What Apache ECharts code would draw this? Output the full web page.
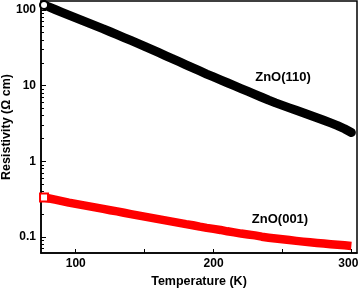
<!DOCTYPE html>
<html>
<head>
<meta charset="utf-8">
<script src="https://cdn.jsdelivr.net/npm/echarts@6/dist/echarts.min.js"></script>
<style>html,body{margin:0;padding:0;background:#fff;}#c{width:360px;height:289px;}</style>
</head>
<body>
<div id="c"></div>
<script>
const temperature = [77,80,85,90,95,100,105,110,115,120,125,130,135,140,145,150,155,160,165,170,175,180,185,190,195,200,205,210,215,220,225,230,235,240,245,250,255,260,265,270,275,280,285,290,295,300];
const zno110 = [115.9,110.2,101.2,92.9,85.2,78.3,72.0,66.2,60.9,56.1,51.4,47.1,43.1,39.5,36.2,33.0,30.1,27.4,24.9,22.7,20.7,18.8,17.1,15.6,14.2,13.0,11.9,10.9,9.98,9.14,8.37,7.66,7.02,6.42,5.91,5.48,5.08,4.72,4.38,4.06,3.77,3.49,3.22,2.96,2.69,2.40];
const zno001 = [0.333,0.325,0.311,0.298,0.285,0.274,0.264,0.254,0.244,0.235,0.226,0.218,0.209,0.201,0.193,0.186,0.179,0.172,0.166,0.160,0.154,0.148,0.143,0.137,0.132,0.128,0.124,0.119,0.115,0.111,0.108,0.105,0.101,0.098,0.0955,0.0933,0.0912,0.0890,0.0869,0.0851,0.0836,0.0820,0.0805,0.0791,0.0777,0.0762];
const xTickLabels = [100,200,300];
const xTicks = [100,150,200,250,300];
const yTickLabels = [0.1,1,10,100];
const yMinorTicks = [0.07,0.08,0.09,0.2,0.3,0.4,0.5,0.6,0.7,0.8,0.9,2,3,4,5,6,7,8,9,20,30,40,50,60,70,80,90];
const seriesNames = ['ZnO(110)','ZnO(001)'];

const chart = echarts.init(document.getElementById('c'), null, {renderer:'canvas'});
const font = 'Liberation Sans, Arial, sans-serif';
function mk(vals, sym){
  return temperature.map((t,i)=> i===0 ? {value:[t,vals[i]], symbol:sym, symbolSize:8} : [t,vals[i]]);
}
const lblStyle = {fontFamily:font, fontWeight:'bold', fontSize:12, color:'#000'};
const yBase = {type:'log', min:0.0615, max:131, gridIndex:0};
chart.setOption({
  animation:false,
  backgroundColor:'#fff',
  grid:{left:41, right:3, top:1, bottom:36, containLabel:false, outerBoundsMode:'none', show:true, borderColor:'#000', borderWidth:1.5, backgroundColor:'transparent'},
  xAxis:{type:'value', min:74.8, max:304.1,
    name:'Temperature (K)', nameLocation:'middle', nameGap:22, nameMoveOverlap:false,
    nameTextStyle:{fontFamily:font, fontWeight:'bold', fontSize:12.5, color:'#000'},
    axisLine:{lineStyle:{color:'#000', width:1.5}},
    axisTick:{inside:true, length:4, lineStyle:{color:'#000'}, customValues:xTicks},
    axisLabel:{customValues:xTickLabels, fontFamily:font, fontWeight:'bold', fontSize:12, color:'#000', margin:5,
      formatter:v=> (v===xTickLabels[xTickLabels.length-1] ? '{r|'+v+'}' : '{n|'+v+'}'),
      rich:{n:Object.assign({}, lblStyle), r:Object.assign({padding:[0,6,0,0]}, lblStyle)}},
    splitLine:{show:false}
  },
  yAxis:[
    Object.assign({}, yBase, {
      name:'Resistivity (\u03A9 cm)', nameLocation:'middle', nameGap:28, nameMoveOverlap:false,
      nameTextStyle:{fontFamily:font, fontWeight:'bold', fontSize:12.5, color:'#000'},
      axisLine:{lineStyle:{color:'#000', width:1.5}},
      axisTick:{show:true, inside:true, length:3, lineStyle:{color:'#000', width:1}, customValues:yTickLabels.concat(yMinorTicks)},
      axisLabel:{customValues:yTickLabels, fontFamily:font, fontWeight:'bold', fontSize:12, color:'#000', margin:5,
        formatter:v=>String(+Number(v).toPrecision(3))},
      splitLine:{show:false}
    }),
    Object.assign({}, yBase, {
      position:'left', offset:0,
      axisLine:{show:false},
      axisTick:{show:true, inside:true, length:5, lineStyle:{color:'#000', width:1}, customValues:yTickLabels},
      axisLabel:{show:false},
      splitLine:{show:false}
    })
  ],
  series:[
    {name:seriesNames[0], type:'line', yAxisIndex:0, data:mk(zno110,'emptyCircle'),
      symbol:'none', showSymbol:true, smooth:false,
      lineStyle:{color:'#000', width:9, cap:'round', join:'round'},
      itemStyle:{color:'#000', borderWidth:1.5, borderColor:'#000'}, z:3},
    {name:seriesNames[1], type:'line', yAxisIndex:0, data:mk(zno001,'emptyRect'),
      symbol:'none', showSymbol:true, smooth:false,
      lineStyle:{color:'#ff0000', width:8.5, cap:'butt', join:'round'},
      itemStyle:{color:'#ff0000', borderWidth:1.5, borderColor:'#ff0000'}, z:3}
  ],
  graphic:[
    {type:'text', x:283, y:77, style:{text:seriesNames[0], fontFamily:font, fontWeight:'bold', fontSize:13, fill:'#000', align:'center', verticalAlign:'middle'}},
    {type:'text', x:280, y:219, style:{text:seriesNames[1], fontFamily:font, fontWeight:'bold', fontSize:13, fill:'#000', align:'center', verticalAlign:'middle'}}
  ]
});
</script>
</body>
</html>
